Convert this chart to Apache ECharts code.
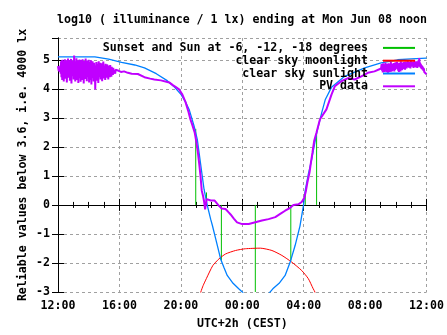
<!DOCTYPE html>
<html><head><meta charset="utf-8">
<script src="https://cdn.jsdelivr.net/npm/echarts@6/dist/echarts.min.js"></script>
<style>html,body{margin:0;padding:0;background:#fff}#c{width:447px;height:335px}</style>
</head><body><div id="c"></div>
<script>
// x values are hours after 12:00 (Sun) noon
const xTickLabels = ['12:00', '16:00', '20:00', '00:00', '04:00', '08:00', '12:00'];
const yTicks = [-3, -2, -1, 0, 1, 2, 3, 4, 5];

// green: sunset and sun at -6, -12, -18 degrees  [hour, top value]
const sunsetMarks = [[8.97, 2.62], [9.67, 0.43], [10.64, -1.92], [12.85, -3.0], [15.16, -1.92], [16.10, 0.43], [16.84, 2.58]];

const moonlight = [[9.22, -3.2], [9.3, -3.0], [9.45, -2.78], [9.66, -2.54], [10.08, -2.09], [10.48, -1.86], [10.91, -1.69],
  [11.56, -1.57], [12.2, -1.51], [13.18, -1.49], [13.93, -1.57], [14.58, -1.74], [15.22, -1.97], [15.87, -2.26],
  [16.3, -2.54], [16.62, -2.89], [16.73, -3.0], [16.8, -3.2]];

const sunlight = [[0, 5.10], [1.2, 5.10], [2.4, 5.10], [3.3, 5.02], [4.14, 4.91], [5.0, 4.82], [5.63, 4.72], [6.4, 4.52],
  [7.11, 4.28], [7.6, 4.05], [8.02, 3.80], [8.3, 3.55], [8.54, 3.29], [8.86, 2.72], [9.07, 2.26], [9.29, 1.4],
  [9.51, 0.54], [9.73, -0.03], [9.94, -0.49], [10.05, -0.7], [10.27, -1.17], [10.59, -1.86], [10.8, -2.15],
  [11.02, -2.43], [11.4, -2.7], [11.77, -2.89], [12.0, -3.0], [12.15, -3.1], [12.9, null],
  [13.65, -3.1], [13.99, -2.89], [14.4, -2.7], [14.79, -2.43], [15.12, -1.97], [15.44, -1.4], [15.76, -0.72],
  [15.98, -0.03], [16.1, 0.5], [16.3, 1.05], [16.52, 1.57], [16.85, 2.49], [17.17, 3.17], [17.4, 3.62],
  [17.81, 4.05], [18.67, 4.43], [19.97, 4.72], [21.04, 4.89], [22.12, 5.0], [23.0, 5.03], [24.0, 5.06]];

// PV data: noisy afternoon samples (every 0.025 h from 12:00)
const pvEarlyStart = 0, pvStep = 0.025;
const pvEarly = [
  4.78, 4.70, 4.62, 4.74, 4.58, 4.66, 4.80, 4.52, 4.95, 4.40, 4.98, 4.30, 5.00, 4.62, 4.90, 4.25, 4.96, 4.55, 5.02, 4.35,
  4.88, 4.60, 4.98, 4.22, 4.92, 4.48, 5.04, 4.38, 4.86, 4.70, 4.99, 4.28, 4.94, 4.56, 5.03, 4.18, 4.90, 4.45, 4.97, 4.62,
  4.85, 4.32, 5.15, 4.40, 4.95, 4.25, 4.88, 4.60, 5.05, 4.30, 4.92, 4.50, 4.98, 4.20, 4.87, 4.66, 5.01, 4.36, 4.93, 4.24,
  4.99, 4.55, 4.84, 4.30, 5.02, 4.45, 4.90, 4.18, 4.96, 4.62, 4.88, 4.34, 5.04, 4.52, 4.91, 4.26, 4.97, 4.40, 4.86, 4.58,
  5.00, 4.22, 4.93, 4.48, 4.85, 4.30, 4.98, 4.15, 4.89, 4.56, 4.95, 4.38, 4.82, 4.25, 4.90, 4.60, 4.75, 3.98, 4.80, 4.45,
  4.92, 4.28, 4.86, 4.52, 4.78, 4.20, 4.95, 4.40, 4.84, 4.62, 4.90, 4.32, 4.76, 4.48, 4.88, 4.26, 4.82, 4.55, 4.94, 4.36,
  4.80, 4.44, 4.72, 4.30, 4.86, 4.50, 4.78, 4.38, 4.84, 4.58, 4.70, 4.32, 4.80, 4.46, 4.74, 4.40, 4.82, 4.52, 4.68, 4.42,
  4.76, 4.50, 4.66, 4.48, 4.72, 4.55, 4.64, 4.58, 4.70, 4.52, 4.66, 4.60, 4.65, 4.62, 4.64, 4.63, 4.64];
// PV data: evening, night and morning [hour, value]
const pvMid = [
  [3.95, 4.62], [4.1, 4.58], [4.3, 4.60], [4.55, 4.55], [4.8, 4.52], [5.2, 4.51], [5.63, 4.40], [6.0, 4.35],
  [6.27, 4.32], [6.7, 4.29], [7.24, 4.22], [7.5, 4.12], [7.7, 4.05], [7.9, 3.97], [8.1, 3.80], [8.3, 3.55],
  [8.5, 3.2], [8.62, 2.95], [8.75, 2.75], [8.9, 2.5], [9.0, 2.2], [9.1, 1.85], [9.2, 1.4], [9.28, 1.0],
  [9.36, 0.5], [9.45, 0.3], [9.52, 0.1], [9.58, -0.15], [9.62, -0.1], [9.68, 0.2], [9.8, 0.22], [9.95, 0.15],
  [10.05, 0.2], [10.2, 0.15], [10.35, 0.05], [10.48, -0.03], [10.65, -0.12], [10.91, -0.14], [11.1, -0.25],
  [11.24, -0.33], [11.45, -0.47], [11.66, -0.6], [11.99, -0.66], [12.42, -0.66], [12.85, -0.6], [13.28, -0.54],
  [13.71, -0.49], [14.15, -0.42], [14.47, -0.31], [14.79, -0.2], [15.12, -0.1], [15.33, 0.0], [15.65, 0.02],
  [15.87, 0.1], [16.04, 0.25], [16.15, 0.5], [16.25, 0.8], [16.38, 1.12], [16.47, 1.46], [16.57, 1.8],
  [16.68, 2.2], [16.84, 2.5], [17.06, 2.95], [17.48, 3.29], [17.81, 3.8], [18.03, 4.09], [18.45, 4.26],
  [18.89, 4.37], [19.32, 4.32], [19.75, 4.43], [20.18, 4.55], [20.61, 4.60], [21.04, 4.70]];
// PV data: noisy late-morning samples (every 0.025 h from 09:03)
const pvLateStart = 21.05;
const pvLate = [
  4.72, 4.85, 4.62, 4.80, 4.56, 4.88, 4.66, 4.78, 4.58, 4.84, 4.64, 4.90, 4.60, 4.80, 4.57, 4.86, 4.63, 4.76, 4.55, 4.88,
  4.60, 4.82, 4.58, 4.86, 4.64, 4.92, 4.59, 4.79, 4.61, 4.87, 4.63, 4.81, 4.66, 4.89, 4.60, 4.83, 4.65, 4.91, 4.68, 4.86,
  4.70, 4.93, 4.72, 4.88, 4.62, 4.84, 4.58, 4.90, 4.66, 4.82, 4.60, 4.95, 4.70, 4.86, 4.64, 4.90, 4.72, 4.85, 4.68, 4.92,
  4.74, 4.88, 4.66, 4.94, 4.78, 4.87, 4.70, 4.91, 4.75, 4.96, 4.80, 4.89, 4.73, 4.92, 4.78, 4.86, 4.70, 4.98, 4.82, 4.90,
  4.76, 4.92, 4.80, 4.94, 4.72, 4.88, 4.78, 4.96, 4.75, 4.90, 4.74, 4.92, 4.78, 4.95, 4.72, 4.88, 4.80, 4.98, 4.76, 5.06,
  4.80, 4.90, 4.74, 4.86, 4.70, 4.82, 4.68, 4.78, 4.66, 4.74, 4.62, 4.70, 4.58, 4.64, 4.55, 4.58, 4.52, 4.54, 4.50];

const FONT = 'DejaVu Sans Mono';
const FS = 11.6;

const pvData = [];
pvEarly.forEach(function (v, i) { pvData.push([pvEarlyStart + i * pvStep, v]); });
pvMid.forEach(function (p) { pvData.push(p); });
pvLate.forEach(function (v, i) { pvData.push([pvLateStart + i * pvStep, v]); });

const greenData = [];
sunsetMarks.forEach(function (m) { greenData.push([m[0], 0], [m[0], m[1]], [m[0], null]); });

const chart = echarts.init(document.getElementById('c'), null, { renderer: 'canvas' });
const txt = { fontFamily: FONT, fontSize: FS, fontWeight: 'bold', color: '#000' };

function xAxisDef(pos, show) {
  return {
    type: 'value', position: pos, min: 0, max: 24, interval: 4,
    axisLine: { show: true, lineStyle: { color: '#000', width: 1 } },
    axisTick: { show: true, inside: true, length: 6, lineStyle: { color: '#000' } },
    minorTick: { show: true, splitNumber: 4, length: 3, lineStyle: { color: '#000' } },
    axisLabel: show ? Object.assign({ margin: 8, formatter: function (v) { return xTickLabels[Math.round(v / 4)]; } }, txt) : { show: false },
    splitLine: show ? { show: true, lineStyle: { color: '#a0a0a0', type: [3, 3], width: 1 } } : { show: false },
    name: show ? 'UTC+2h (CEST)' : '', nameLocation: 'middle', nameGap: 26, nameMoveOverlap: false, nameTextStyle: txt
  };
}
function yAxisDef(pos, show) {
  return {
    type: 'value', position: pos, min: -3, max: 5.75, interval: 1,
    axisLine: { show: true, lineStyle: { color: '#000', width: 1 } },
    axisTick: { show: true, inside: true, length: 6, lineStyle: { color: '#000' } },
    axisLabel: show ? Object.assign({ margin: 8, showMaxLabel: false, formatter: function (v) { return yTicks.indexOf(v) >= 0 ? String(v) : ''; } }, txt) : { show: false },
    splitLine: show ? { show: true, lineStyle: { color: '#a0a0a0', type: [3, 3], width: 1 } } : { show: false },
    name: show ? 'Reliable values below 3.6, i.e. 4000 lx' : '', nameLocation: 'middle', nameGap: 29, nameMoveOverlap: false, nameTextStyle: txt
  };
}

chart.setOption({
  animation: false,
  backgroundColor: '#fff',
  title: { text: 'log10 ( illuminance / 1 lx) ending at Mon Jun 08 noon', left: 57, top: 13.5, padding: 0, textStyle: txt },
  grid: { left: 58, right: 18, top: 38, bottom: 42, containLabel: false },
  xAxis: [xAxisDef('bottom', true), xAxisDef('top', false)],
  yAxis: [yAxisDef('left', true), yAxisDef('right', false)],
  legend: {
    orient: 'vertical', right: 31, top: 41.5, align: 'right', itemGap: 0, itemWidth: 32, itemHeight: 12.8,
    selectedMode: false, padding: 0,
    itemStyle: { opacity: 0 },
    textStyle: Object.assign({ lineHeight: 12.8, padding: [0, 10, 0, 0] }, txt),
    data: ['Sunset and Sun at -6, -12, -18 degrees', 'clear sky moonlight', 'clear sky sunlight', 'PV data']
  },
  series: [
    { name: 'Sunset and Sun at -6, -12, -18 degrees', type: 'line', data: greenData, symbol: 'none', connectNulls: false,
      lineStyle: { color: '#00c000', width: 1 }, itemStyle: { color: '#00c000' } },
    { name: 'clear sky moonlight', type: 'line', data: moonlight, symbol: 'none', smooth: 0.2,
      lineStyle: { color: '#ff0000', width: 1 }, itemStyle: { color: '#ff0000' } },
    { name: 'clear sky sunlight', type: 'line', data: sunlight, symbol: 'none', connectNulls: false,
      lineStyle: { color: '#0080ff', width: 1.3 }, itemStyle: { color: '#0080ff' } },
    { name: 'PV data', type: 'line', data: pvData, symbol: 'none',
      lineStyle: { color: '#c000ff', width: 2 }, itemStyle: { color: '#c000ff' } }
  ]
});
</script>
</body></html>
